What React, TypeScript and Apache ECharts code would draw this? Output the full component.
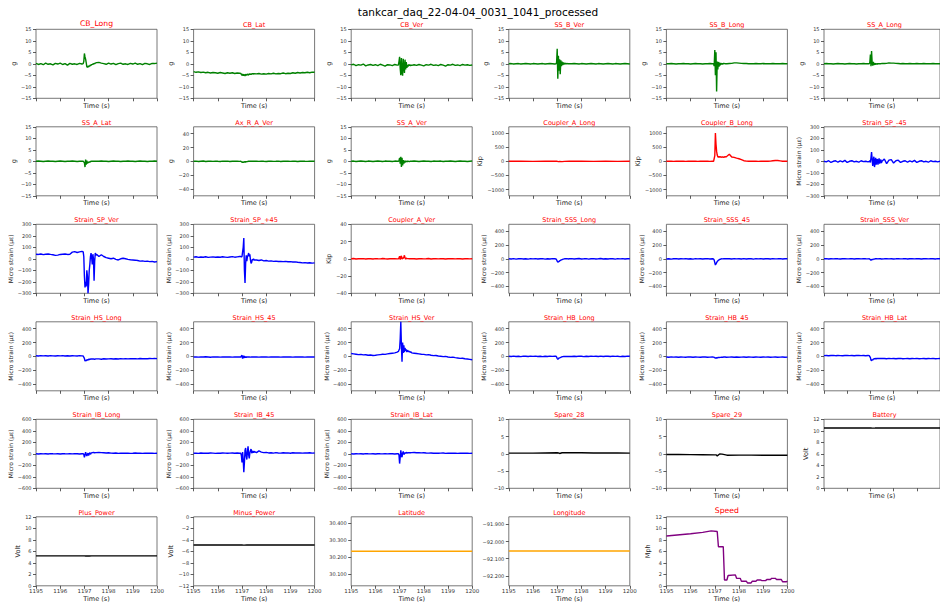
import React, { useEffect, useRef } from "react";
import * as echarts from "echarts";

const FIG_TITLE = "tankcar_daq_22-04-04_0031_1041_processed";

// Main time grid (s): coarse before/after the impact, fine around it
const T = [
  1195.0, 1195.1, 1195.2, 1195.3, 1195.4, 1195.5, 1195.6, 1195.7, 1195.8, 1195.9,
  1196.0, 1196.1, 1196.2, 1196.3, 1196.4, 1196.5, 1196.6, 1196.7, 1196.8, 1196.9,
  1196.95, 1196.975, 1197.0, 1197.025, 1197.05, 1197.075, 1197.1, 1197.125, 1197.15, 1197.175,
  1197.2, 1197.225, 1197.25, 1197.275, 1197.3, 1197.325, 1197.35, 1197.375, 1197.4, 1197.425,
  1197.45, 1197.475, 1197.5,
  1197.6, 1197.7, 1197.8, 1197.9, 1198.0, 1198.1, 1198.2, 1198.3, 1198.4, 1198.5,
  1198.6, 1198.7, 1198.8, 1198.9, 1199.0, 1199.1, 1199.2, 1199.3, 1199.4, 1199.5,
  1199.6, 1199.7, 1199.8, 1199.9, 1200.0,
];
// Sparse time grid for slowly varying channels
const TF = [1195, 1195.5, 1196, 1196.5, 1197, 1197.05, 1197.1, 1197.2, 1197.3, 1197.5, 1198, 1198.5, 1199, 1199.5, 1200];
// GPS speed time stamps
const TSP = [
  1195.0, 1196.0, 1196.5, 1196.85, 1197.1, 1197.15, 1197.35, 1197.4, 1197.5, 1197.55,
  1197.85, 1197.9, 1198.05, 1198.1, 1198.3, 1198.35, 1198.5, 1198.55, 1198.7, 1198.75,
  1198.9, 1198.95, 1199.1, 1199.15, 1199.3, 1199.35, 1199.5, 1199.55, 1199.75, 1199.8,
  1199.95, 1200.0,
];

const CB_LONG = [
  0.2, -0.3, 0.1, -0.4, 0.3, -0.2, 0.0, -0.5, 0.2, -0.1, 0.3, -0.3, 0.1, -0.6, 0.2, -0.2, 0.0, -0.3, 0.2, -0.1,
  0.1, 1.0, 4.5, 3.0, 2.0, 0.5, -1.2, -1.6, -1.0, -1.4, -0.8, -1.0, -0.5, -0.7, -0.2, -0.4, 0.0, -0.2, 0.2, 0.0, 0.3, 0.4, 0.5,
  0.6, 0.3, 0.1, -0.2, 0.3, -0.1, 0.2, -0.4, 0.1, 0.3, -0.2, 0.0, -0.3, 0.2, -0.1, 0.3, -0.2, 0.1, -0.4, 0.2, 0.0, -0.3, 0.2, 0.1, 0.3,
];
const CB_LAT = [
  -3.4, -3.7, -3.5, -3.8, -3.6, -3.9, -3.7, -4.0, -3.8, -3.9, -4.1, -3.8, -4.0, -4.2, -3.9, -4.1, -3.9, -4.2, -4.0, -4.1,
  -4.2, -4.6, -5.0, -4.4, -5.2, -4.6, -4.9, -5.3, -4.5, -4.8, -5.0, -4.4, -4.7, -4.9, -4.3, -4.6, -4.4, -4.7, -4.3, -4.5, -4.2, -4.5, -4.3,
  -4.4, -4.2, -4.5, -4.3, -4.5, -4.2, -4.4, -4.1, -4.4, -4.2, -4.3, -4.0, -4.3, -4.1, -4.2, -3.9, -4.1, -3.8, -4.0, -3.8, -3.9, -3.7, -3.9, -3.6, -3.7,
];
const CB_VER = [
  -0.5, -0.2, -0.8, -0.4, -0.6, -0.1, -0.9, -0.5, -0.3, -0.7, -0.4, -0.8, -0.2, -0.6, -1.0, -0.4, -0.5, -0.8, -0.3, -0.6,
  -0.5, 1.0, 3.0, -2.0, -5.0, 2.5, -3.5, -5.2, 2.2, -1.5, -4.0, 1.8, -2.5, 0.8, -1.8, -0.5, -1.2, -0.3, -0.8, -0.4, -0.9, -0.5, -0.7,
  -0.4, -0.7, -0.3, -0.6, -0.9, -0.4, -0.6, -0.2, -0.7, -0.5, -0.8, -0.3, -0.6, -1.0, -0.4, -0.6, -0.2, -0.7, -0.5, -0.8, -0.3, -0.6, -0.4, -0.7, -0.5,
];
const SS_B_VER = [
  0.0, 0.1, -0.1, 0.0, 0.1, -0.1, 0.0, 0.1, 0.0, -0.1, 0.1, 0.0, -0.1, 0.0, 0.1, -0.1, 0.0, 0.1, 0.0, -0.1,
  0.0, 0.5, 6.5, -6.5, 3.5, -3.0, 2.0, -4.5, 1.5, -1.0, 1.0, -0.6, 0.6, -0.3, 0.4, -0.2, 0.3, -0.1, 0.2, 0.0, 0.1, 0.0, 0.1,
  0.0, 0.1, 0.0, -0.1, 0.1, 0.0, -0.1, 0.0, 0.1, 0.0, -0.1, 0.1, 0.0, -0.1, 0.0, 0.1, 0.0, -0.1, 0.1, 0.0, -0.1, 0.0, 0.1, 0.0, -0.1,
];
const SS_B_LONG = [
  0.0, 0.0, 0.1, 0.0, -0.1, 0.0, 0.0, 0.1, 0.0, 0.0, -0.1, 0.0, 0.1, 0.0, 0.0, -0.1, 0.0, 0.0, 0.1, 0.0,
  0.0, -1.0, 6.0, -5.0, 5.0, -12.0, 1.0, -2.5, 0.8, -1.2, 0.5, -0.6, 0.3, -0.3, 0.2, -0.2, 0.1, 0.0, 0.1, 0.0, 0.0, 0.1, 0.0,
  0.1, 0.2, 0.4, 0.4, 0.3, 0.2, 0.1, 0.1, 0.0, 0.0, 0.0, 0.1, 0.0, 0.0, 0.1, 0.0, 0.0, 0.0, 0.1, 0.0, 0.0, 0.0, 0.1, 0.0, 0.0,
];
const SS_A_LONG = [
  0.0, 0.1, 0.0, 0.0, -0.1, 0.0, 0.1, 0.0, 0.0, -0.1, 0.0, 0.1, 0.0, 0.0, -0.1, 0.0, 0.0, 0.1, 0.0, 0.0,
  0.0, 0.5, 4.0, -1.0, 5.5, 0.5, -0.8, 0.8, -0.6, 0.3, -0.4, 0.2, -0.3, 0.1, -0.2, 0.1, 0.0, 0.0, 0.1, 0.0, 0.0, 0.1, 0.0,
  0.1, 0.2, 0.4, 0.3, 0.3, 0.2, 0.1, 0.0, 0.1, 0.0, 0.0, 0.1, 0.0, 0.0, 0.1, 0.0, 0.0, 0.1, 0.0, 0.0, 0.0, 0.1, 0.0, 0.0, 0.0,
];
const SS_A_LAT = [
  0.0, 0.1, 0.0, -0.1, 0.0, 0.1, 0.0, 0.0, -0.1, 0.0, 0.1, 0.0, -0.1, 0.0, 0.0, 0.1, 0.0, -0.1, 0.0, 0.0,
  0.0, -0.3, -0.5, -2.5, 0.8, -1.5, 0.3, -1.0, -0.3, -0.6, -0.2, -0.4, -0.1, -0.2, 0.0, -0.1, 0.0, -0.1, 0.0, 0.0, 0.1, 0.0, 0.0,
  0.0, 0.1, 0.0, 0.0, -0.1, 0.0, 0.1, 0.0, 0.0, -0.1, 0.0, 0.0, 0.1, 0.0, 0.0, -0.1, 0.0, 0.1, 0.0, 0.0, -0.1, 0.0, 0.0, 0.1, 0.0,
];
const AX_R_A_VER = [
  0.0, 0.3, -0.2, 0.1, 0.4, -0.3, 0.0, 0.2, -0.1, 0.3, 0.0, -0.2, 0.2, 0.0, 0.3, -0.2, 0.1, 0.0, 0.2, -0.1,
  0.0, -0.5, -1.5, -0.8, -1.8, -1.0, -1.5, -0.6, -1.2, -0.5, -0.8, -0.3, -0.5, 0.0, -0.2, 0.1, 0.0, 0.2, -0.1, 0.0, 0.2, 0.0, 0.1,
  0.2, -0.1, 0.3, 0.0, -0.2, 0.1, 0.3, -0.1, 0.0, 0.2, -0.2, 0.1, 0.0, 0.3, -0.1, 0.2, 0.0, -0.2, 0.1, 0.3, 0.0, -0.1, 0.2, 0.0, 0.1,
];
const SS_A_VER = [
  0.0, 0.1, -0.1, 0.0, 0.1, 0.0, -0.1, 0.1, 0.0, -0.1, 0.0, 0.1, 0.0, -0.1, 0.1, 0.0, 0.0, -0.1, 0.1, 0.0,
  0.0, 0.3, 1.5, -1.0, 2.0, -2.5, 1.5, -1.8, 0.5, -1.0, 0.3, -0.5, 0.2, -0.3, 0.1, -0.2, 0.1, 0.0, -0.1, 0.0, 0.1, 0.0, 0.0,
  0.1, 0.0, -0.1, 0.0, 0.1, 0.0, 0.0, -0.1, 0.1, 0.0, 0.0, 0.1, -0.1, 0.0, 0.0, 0.1, 0.0, -0.1, 0.0, 0.1, 0.0, 0.0, -0.1, 0.0, 0.1,
];
const COUPLER_A_LONG = [0, 2, -2, 1, 0, -12, -6, -10, -3, 0, 2, -1, 1, -2, 0];
const COUPLER_B_LONG = [
  0, 1, 0, -1, 0, 1, 0, 0, -1, 0, 1, 0, 0, -1, 0, 1, 0, 0, -1, 0,
  0, 5, 200, 1000, 600, 350, 220, 160, 140, 170, 150, 140, 160, 150, 140, 160, 150, 140, 150, 170, 150, 160, 180,
  250, 150, 140, 110, 90, 60, 20, 5, 0, 0, 1, 0, -1, 0, 0, 1, 0, 5, 20, 30, 30, 15, 0, 0, 1,
];
const STRAIN_SP_M45 = [
  0, -5, 5, -10, 0, 5, -8, 3, -5, 8, -10, 0, 5, -5, 0, -8, 5, -3, 0, -5,
  0, 5, -10, 30, 80, 20, -40, 10, 40, -50, -20, 30, -30, 10, 20, -30, 0, 25, -20, 5, 15, -15, 0,
  20, -20, 10, 15, -15, 5, 10, -10, 0, 5, -8, 3, -5, 8, -10, 0, 5, -5, 0, -8, 5, -3, 0, -5, 0,
];
const STRAIN_SP_VER = [
  40, 38, 42, 36, 40, 42, 38, 35, 30, 32, 38, 40, 42, 38, 40, 58, 62, 55, 60, 65,
  60, 20, -150, -250, -200, -240, -100, -150, -300, -220, -100, -50, 20, 50, 10, -50, 40, 0, -190, -20, 50, 30, 40,
  20, 35, 20, 10, 5, 0, 5, -5, -10, 0, 5, 0, -5, -8, -10, -12, -15, -20, -18, -22, -20, -25, -22, -28, -25,
];
const STRAIN_SP_P45 = [
  15, 18, 12, 16, 14, 18, 12, 15, 17, 13, 16, 14, 18, 15, 12, 16, 19, 14, 17, 20,
  20, 15, 20, 60, 100, 180, -100, -210, -40, 30, -20, 20, 30, 50, 20, 40, -10, -40, -30, -5, -10, 0, -10,
  -10, -15, -10, -18, -15, -20, -18, -22, -20, -24, -22, -25, -22, -26, -25, -28, -27, -30, -32, -35, -33, -36, -34, -38, -35,
];
const COUPLER_A_VER = [
  0, 0.3, -0.2, 0.1, 0, 0.2, -0.3, 0.1, 0, -0.2, 0.2, 0, -0.1, 0.3, 0, -0.2, 0.1, 0, 0.2, -0.1,
  0, 1, 3, -1, 2, 3.5, -0.5, 1, 0.5, 2, 4, 1, -0.5, 1, 0.3, 0, 0.2, -0.2, 0, 0.1, 0, -0.1, 0,
  0.1, -0.2, 0, 0.2, -0.1, 0, 0.3, -0.2, 0.1, 0, -0.1, 0.2, 0, -0.3, 0.1, 0, 0.2, -0.1, 0, 0.1, -0.2, 0, 0.2, -0.1, 0,
];
const STRAIN_SSS_LONG = [
  0, -3, 2, -4, 1, 3, -2, 0, -5, 2, -1, 3, -3, 0, 2, -4, 1, -2, 3, 0,
  -2, -15, -35, -50, -45, -38, -30, -25, -20, -15, -12, -8, -5, -3, 0, -2, 1, -1, 2, 0, -2, 1, 0,
  2, -3, 1, 4, -2, 0, 3, -4, 1, 2, -3, 0, 4, -2, 1, -3, 2, 0, -4, 3, -1, 2, -3, 1, 0,
];
const STRAIN_SSS_45 = [
  -2, 1, -4, 0, 2, -3, 1, -1, 3, -2, 0, -4, 2, -1, 1, -3, 0, 2, -2, 0,
  -2, -20, -55, -90, -75, -55, -40, -30, -22, -15, -10, -6, -3, 0, 2, -1, 1, 0, 2, 0, -1, 1, 0,
  1, -2, 3, -1, 0, -3, 2, -2, 1, 0, -4, 2, -1, 3, -2, 0, 1, -3, 2, -1, 0, 2, -3, 1, 0,
];
const STRAIN_SSS_VER = [
  0, 2, -2, 1, -1, 3, 0, -2, 1, 2, -1, 0, 2, -3, 1, 0, -1, 2, 0, -1,
  0, -5, -12, -20, -15, -8, -14, -5, -8, -3, -5, 0, -2, 1, 0, -1, 2, 0, -1, 1, 0, -2, 1,
  0, 2, -1, 1, -2, 0, 3, -1, 0, 2, -2, 1, 0, -1, 2, 0, -3, 1, 2, -1, 0, 1, -2, 2, 0,
];
const STRAIN_HS_LONG = [
  8, 5, 10, 6, 8, 4, 9, 6, 5, 8, 6, 10, 5, 7, 4, 8, 6, 5, 9, 6,
  5, 0, -30, -70, -55, -65, -50, -45, -55, -40, -48, -42, -45, -40, -44, -38, -42, -40, -38, -42, -40, -38, -40,
  -38, -42, -36, -40, -38, -35, -39, -36, -40, -34, -37, -35, -38, -33, -36, -34, -37, -32, -35, -33, -36, -31, -34, -32, -33,
];
const STRAIN_HS_45 = [
  -10, -8, -12, -9, -11, -7, -10, -13, -9, -10, -8, -12, -10, -9, -11, -8, -12, -10, -9, -11,
  -10, -5, 15, -35, 10, -25, 5, -18, -5, -15, -8, -12, -10, -9, -11, -10, -12, -9, -10, -11, -10, -9, -11,
  -10, -12, -9, -11, -8, -12, -10, -9, -11, -8, -12, -10, -9, -11, -10, -12, -9, -11, -8, -10, -12, -9, -11, -10, -10,
];
const STRAIN_HS_VER = [
  40, 35, 30, 25, 28, 20, 22, 15, 18, 12, 15, 20, 25, 30, 28, 35, 40, 45, 50, 60,
  70, 90, 110, 250, 500, 150, -80, 200, 50, 160, 60, 120, 80, 100, 60, 90, 70, 80, 60, 70, 55, 65, 50,
  45, 40, 35, 30, 28, 20, 25, 15, 10, 12, 5, 0, -5, -2, -10, -15, -12, -20, -25, -30, -28, -35, -40, -45, -50,
];
const STRAIN_HB_LONG = [
  0, -3, 3, -2, 1, -4, 2, 0, -3, 2, -1, 3, -2, 0, -4, 1, -2, 3, -1, 0,
  0, -10, -30, -45, -35, -25, -30, -20, -15, -10, -8, -5, -3, -2, 0, -3, 1, -2, 0, -1, 1, -2, 0,
  -2, 1, -3, 2, 0, -4, 1, -2, 3, -1, 0, -3, 2, -2, 0, 1, -3, 2, -1, 0, -4, 1, -2, 2, 0,
];
const STRAIN_HB_45 = [
  -10, -13, -9, -12, -11, -14, -10, -12, -13, -9, -11, -14, -10, -12, -13, -10, -11, -14, -12, -10,
  -12, -15, -20, -28, -22, -18, -24, -16, -14, -18, -13, -15, -12, -14, -11, -13, -12, -10, -13, -11, -12, -14, -11,
  -12, -10, -13, -11, -14, -12, -10, -13, -11, -12, -14, -10, -12, -13, -11, -12, -10, -13, -12, -11, -14, -12, -10, -13, -12,
];
const STRAIN_HB_LAT = [
  10, 12, 8, 11, 13, 9, 12, 10, 8, 11, 13, 10, 12, 9, 11, 13, 10, 12, 9, 11,
  10, 5, -20, -55, -65, -45, -55, -40, -45, -35, -40, -32, -38, -30, -35, -32, -36, -30, -34, -31, -35, -30, -33,
  -32, -35, -30, -34, -31, -36, -32, -30, -35, -33, -31, -36, -32, -34, -30, -35, -33, -31, -36, -32, -34, -30, -35, -33, -32,
];
const STRAIN_IB_LONG = [
  0, -3, 2, -2, 1, -4, 3, 0, -2, 1, -3, 2, 0, -1, 3, -2, 1, 0, -3, 2,
  0, -10, -60, -20, 30, -10, -40, -5, 10, -30, 0, 20, -10, 10, 15, 20, 18, 22, 20, 18, 22, 20, 18,
  22, 20, 18, 15, 18, 12, 10, 14, 8, 12, 10, 9, 12, 8, 10, 13, 9, 11, 8, 12, 10, 9, 11, 8, 10,
];
const STRAIN_IB_45 = [
  10, 12, 8, 14, 10, 12, 9, 13, 11, 8, 12, 10, 14, 11, 9, 12, 15, 10, 13, 10,
  10, -30, -150, 30, -100, -320, -150, 60, 100, -40, -100, 40, 130, -20, -80, 20, 60, 80, 10, 30, 50, 20, 40,
  20, 50, 30, 20, 25, 15, 18, 12, 20, 15, 12, 18, 14, 16, 10, 18, 15, 13, 17, 12, 16, 14, 18, 12, 15,
];
const STRAIN_IB_LAT = [
  0, -3, 2, -2, 1, -4, 3, 0, -2, 1, -3, 2, 0, -1, 3, -2, 1, 0, -3, 2,
  0, -20, -170, -60, 60, -20, -60, 10, 40, -10, 0, 20, 10, 25, 15, 20, 18, 22, 20, 24, 18, 22, 20,
  22, 18, 20, 16, 18, 14, 12, 15, 10, 12, 9, 11, 13, 8, 10, 12, 9, 11, 8, 12, 10, 9, 11, 8, 10,
];
const SPARE_28 = [0.2, 0.2, 0.2, 0.25, 0.3, 0.25, 0.1, 0.3, 0.35, 0.3, 0.3, 0.25, 0.25, 0.25, 0.2];
const SPARE_29 = [-0.2, -0.22, -0.25, -0.28, -0.3, -0.3, -0.6, -0.05, -0.1, -0.4, -0.38, -0.38, -0.4, -0.4, -0.4];
const BATTERY = [10.5, 10.5, 10.49, 10.5, 10.5, 10.48, 10.47, 10.48, 10.5, 10.5, 10.5, 10.49, 10.5, 10.5, 10.5];
const PLUS_POWER = [5.2, 5.2, 5.21, 5.2, 5.2, 5.19, 5.18, 5.19, 5.2, 5.2, 5.2, 5.2, 5.21, 5.2, 5.2];
const MINUS_POWER = [-4.9, -4.9, -4.91, -4.9, -4.9, -4.92, -4.93, -4.91, -4.9, -4.9, -4.9, -4.91, -4.9, -4.9, -4.9];
const LATITUDE = [30.2364, 30.2364, 30.2364, 30.2364, 30.2364, 30.2364, 30.2364, 30.2364, 30.2364, 30.2364, 30.2364, 30.2364, 30.2364, 30.2364, 30.2364];
const LONGITUDE = [-92.0556, -92.0556, -92.0556, -92.0556, -92.0556, -92.0556, -92.0556, -92.0556, -92.0556, -92.0556, -92.0556, -92.0556, -92.0556, -92.0556, -92.0556];
const SPEED = [
  8.65, 9.05, 9.3, 9.55, 9.45, 6.8, 6.8, 1.0, 1.0, 1.8, 1.9, 1.3, 1.3, 0.8, 0.8, 0.5,
  0.5, 0.8, 0.8, 1.0, 1.0, 0.9, 0.9, 1.1, 1.1, 1.3, 1.3, 1.1, 1.1, 0.7, 0.7, 0.8,
];

// Tick label sets
const TICKS_G = [-15, -10, -5, 0, 5, 10, 15];
const TICKS_G50 = [-40, -20, 0, 20, 40];
const TICKS_KIP = [-1000, -500, 0, 500, 1000];
const TICKS_KIP40 = [-40, -20, 0, 20, 40];
const TICKS_SP = [-300, -200, -100, 0, 100, 200, 300];
const TICKS_S400 = [-400, -200, 0, 200, 400];
const TICKS_S600 = [-600, -400, -200, 0, 200, 400, 600];
const TICKS_10 = [-10, -5, 0, 5, 10];
const TICKS_0_12 = [0, 2, 4, 6, 8, 10, 12];
const TICKS_M12_0 = [-12, -10, -8, -6, -4, -2, 0];
const TICKS_LAT = [30.1, 30.2, 30.3, 30.4];
const TICKS_LON = [-92.2, -92.1, -92.0, -91.9];
const X_TICKS = [1195, 1196, 1197, 1198, 1199, 1200];

const GREEN = "#008000", BLUE = "#0000ff", RED = "#ff0000", BLACK = "#000000", ORANGE = "#ffa500", PURPLE = "#800080";
const MS = "Micro strain (\u03bc\u03b5)";

type Panel = {
  title: string; x: number[]; y: number[]; color: string; min: number; max: number;
  ticks: number[]; ylabel?: string; gap?: number; dec?: number; big?: boolean; small?: boolean;
};

const PANELS: Panel[] = [
  { title: "CB_Long", x: T, y: CB_LONG, color: GREEN, min: -15, max: 15, ticks: TICKS_G, ylabel: "g", gap: 14, big: true },
  { title: "CB_Lat", x: T, y: CB_LAT, color: GREEN, min: -15, max: 15, ticks: TICKS_G, ylabel: "g", gap: 14 },
  { title: "CB_Ver", x: T, y: CB_VER, color: GREEN, min: -15, max: 15, ticks: TICKS_G, ylabel: "g", gap: 14 },
  { title: "SS_B_Ver", x: T, y: SS_B_VER, color: GREEN, min: -15, max: 15, ticks: TICKS_G, ylabel: "g", gap: 14 },
  { title: "SS_B_Long", x: T, y: SS_B_LONG, color: GREEN, min: -15, max: 15, ticks: TICKS_G, ylabel: "g", gap: 14 },
  { title: "SS_A_Long", x: T, y: SS_A_LONG, color: GREEN, min: -15, max: 15, ticks: TICKS_G, ylabel: "g", gap: 14 },

  { title: "SS_A_Lat", x: T, y: SS_A_LAT, color: GREEN, min: -15, max: 15, ticks: TICKS_G, ylabel: "g", gap: 14 },
  { title: "Ax_R_A_Ver", x: T, y: AX_R_A_VER, color: GREEN, min: -50, max: 50, ticks: TICKS_G50, ylabel: "g", gap: 14 },
  { title: "SS_A_Ver", x: T, y: SS_A_VER, color: GREEN, min: -15, max: 15, ticks: TICKS_G, ylabel: "g", gap: 14 },
  { title: "Coupler_A_Long", x: TF, y: COUPLER_A_LONG, color: RED, min: -1220, max: 1220, ticks: TICKS_KIP, ylabel: "Kip", gap: 20 },
  { title: "Coupler_B_Long", x: T, y: COUPLER_B_LONG, color: RED, min: -1220, max: 1220, ticks: TICKS_KIP, ylabel: "Kip", gap: 20 },
  { title: "Strain_SP_-45", x: T, y: STRAIN_SP_M45, color: BLUE, min: -300, max: 300, ticks: TICKS_SP, ylabel: MS, gap: 18, small: true },

  { title: "Strain_SP_Ver", x: T, y: STRAIN_SP_VER, color: BLUE, min: -300, max: 300, ticks: TICKS_SP, ylabel: MS, gap: 18, small: true },
  { title: "Strain_SP_+45", x: T, y: STRAIN_SP_P45, color: BLUE, min: -300, max: 300, ticks: TICKS_SP, ylabel: MS, gap: 18, small: true },
  { title: "Coupler_A_Ver", x: T, y: COUPLER_A_VER, color: RED, min: -40, max: 40, ticks: TICKS_KIP40, ylabel: "Kip", gap: 13 },
  { title: "Strain_SSS_Long", x: T, y: STRAIN_SSS_LONG, color: BLUE, min: -500, max: 500, ticks: TICKS_S400, ylabel: MS, gap: 18, small: true },
  { title: "Strain_SSS_45", x: T, y: STRAIN_SSS_45, color: BLUE, min: -500, max: 500, ticks: TICKS_S400, ylabel: MS, gap: 18, small: true },
  { title: "Strain_SSS_Ver", x: T, y: STRAIN_SSS_VER, color: BLUE, min: -500, max: 500, ticks: TICKS_S400, ylabel: MS, gap: 18, small: true },

  { title: "Strain_HS_Long", x: T, y: STRAIN_HS_LONG, color: BLUE, min: -500, max: 500, ticks: TICKS_S400, ylabel: MS, gap: 18, small: true },
  { title: "Strain_HS_45", x: T, y: STRAIN_HS_45, color: BLUE, min: -500, max: 500, ticks: TICKS_S400, ylabel: MS, gap: 18, small: true },
  { title: "Strain_HS_Ver", x: T, y: STRAIN_HS_VER, color: BLUE, min: -500, max: 500, ticks: TICKS_S400, ylabel: MS, gap: 18, small: true },
  { title: "Strain_HB_Long", x: T, y: STRAIN_HB_LONG, color: BLUE, min: -500, max: 500, ticks: TICKS_S400, ylabel: MS, gap: 18, small: true },
  { title: "Strain_HB_45", x: T, y: STRAIN_HB_45, color: BLUE, min: -500, max: 500, ticks: TICKS_S400, ylabel: MS, gap: 18, small: true },
  { title: "Strain_HB_Lat", x: T, y: STRAIN_HB_LAT, color: BLUE, min: -500, max: 500, ticks: TICKS_S400, ylabel: MS, gap: 18, small: true },

  { title: "Strain_IB_Long", x: T, y: STRAIN_IB_LONG, color: BLUE, min: -600, max: 600, ticks: TICKS_S600, ylabel: MS, gap: 18, small: true },
  { title: "Strain_IB_45", x: T, y: STRAIN_IB_45, color: BLUE, min: -600, max: 600, ticks: TICKS_S600, ylabel: MS, gap: 18, small: true },
  { title: "Strain_IB_Lat", x: T, y: STRAIN_IB_LAT, color: BLUE, min: -600, max: 600, ticks: TICKS_S600, ylabel: MS, gap: 18, small: true },
  { title: "Spare_28", x: TF, y: SPARE_28, color: BLACK, min: -10, max: 10, ticks: TICKS_10 },
  { title: "Spare_29", x: TF, y: SPARE_29, color: BLACK, min: -10, max: 10, ticks: TICKS_10 },
  { title: "Battery", x: TF, y: BATTERY, color: BLACK, min: 0, max: 12, ticks: TICKS_0_12, ylabel: "Volt", gap: 11 },

  { title: "Plus_Power", x: TF, y: PLUS_POWER, color: BLACK, min: 0, max: 12, ticks: TICKS_0_12, ylabel: "Volt", gap: 11 },
  { title: "Minus_Power", x: TF, y: MINUS_POWER, color: BLACK, min: -12, max: 0, ticks: TICKS_M12_0, ylabel: "Volt", gap: 14 },
  { title: "Latitude", x: TF, y: LATITUDE, color: ORANGE, min: 30.033, max: 30.439, ticks: TICKS_LAT, dec: 3 },
  { title: "Longitude", x: TF, y: LONGITUDE, color: ORANGE, min: -92.258, max: -91.856, ticks: TICKS_LON, dec: 3 },
  { title: "Speed", x: TSP, y: SPEED, color: PURPLE, min: 0, max: 12, ticks: TICKS_0_12, ylabel: "Mph", gap: 11, big: true },
];

const FONT = "DejaVu Sans";
const LEFTS = [36, 193.6, 351.2, 508.8, 666.4, 824];
const TOPS = [29.3, 126.8, 224.3, 321.8, 419.3, 516.8];
const W = 121;
const H = 69;

const fmt = (v: number, dec?: number) => {
  const s = Math.abs(v).toFixed(dec ?? 0);
  return (v < -1e-9 ? "\u2212" : "") + s;
};

export default function App() {
  const ref = useRef<HTMLDivElement>(null);
  useEffect(() => {
    if (!ref.current) return;
    const chart = echarts.init(ref.current, undefined, { renderer: "svg" });
    const grids: any[] = [];
    const xAxes: any[] = [];
    const yAxes: any[] = [];
    const series: any[] = [];
    const graphics: any[] = [];
    PANELS.forEach((p, i) => {
      const row = Math.floor(i / 6);
      const col = i % 6;
      const left = LEFTS[col];
      const top = TOPS[row];
      const bottomRow = row === 5;
      grids.push({
        left, top, width: W, height: H, show: true,
        borderColor: "#555", borderWidth: 0.8, backgroundColor: "transparent",
      });
      xAxes.push({
        gridIndex: i, type: "value", min: 1195, max: 1200, interval: 1, position: "bottom",
        axisLine: { show: false, onZero: false },
        axisTick: { show: true, length: 3, customValues: X_TICKS, lineStyle: { color: "#333", width: 0.8 } },
        axisLabel: {
          show: bottomRow, customValues: X_TICKS, fontSize: 5.5, color: "#333", margin: 2.5,
          fontFamily: FONT, formatter: (v: number) => String(Math.round(v)),
        },
        splitLine: { show: false },
        name: "Time (s)", nameLocation: "middle", nameGap: bottomRow ? 10 : 4,
        nameTextStyle: { fontSize: 6.5, color: "#222", fontFamily: FONT },
      });
      yAxes.push({
        gridIndex: i, type: "value", min: p.min, max: p.max, position: "left",
        axisLine: { show: false, onZero: false },
        axisTick: { show: true, length: 3, customValues: p.ticks, lineStyle: { color: "#333", width: 0.8 } },
        axisLabel: {
          customValues: p.ticks, fontSize: 5, color: "#333", margin: 4.5, fontFamily: FONT,
          formatter: (v: number) => fmt(v, p.dec),
        },
        splitLine: { show: false },
        name: p.ylabel ?? "", nameLocation: "middle", nameGap: p.gap ?? 14,
        nameTextStyle: { fontSize: p.small ? 6 : 6.5, color: "#222", fontFamily: FONT },
      });
      series.push({
        type: "line", xAxisIndex: i, yAxisIndex: i, silent: true,
        data: p.x.map((t, k) => [t, p.y[k]]),
        showSymbol: false, symbol: "none",
        lineStyle: { color: p.color, width: 1.4 },
      });
      graphics.push({
        type: "text", x: left + W / 2, y: top - (p.big ? 6 : 4), silent: true,
        style: {
          text: p.title, fill: RED, fontSize: p.big ? 7.7 : 6.5, fontFamily: FONT,
          align: "center", verticalAlign: "middle",
        },
      });
    });
    graphics.push({
      type: "text", x: 478, y: 12, silent: true,
      style: { text: FIG_TITLE, fill: "#000", fontSize: 10.5, fontFamily: FONT, align: "center", verticalAlign: "middle" },
    });
    chart.setOption({
      animation: false,
      backgroundColor: "#ffffff",
      textStyle: { fontFamily: FONT },
      grid: grids, xAxis: xAxes, yAxis: yAxes, series, graphic: graphics,
    });
    return () => chart.dispose();
  }, []);
  return <div ref={ref} style={{ position: "absolute", left: 0, top: 0, width: 940, height: 605 }} />;
}
